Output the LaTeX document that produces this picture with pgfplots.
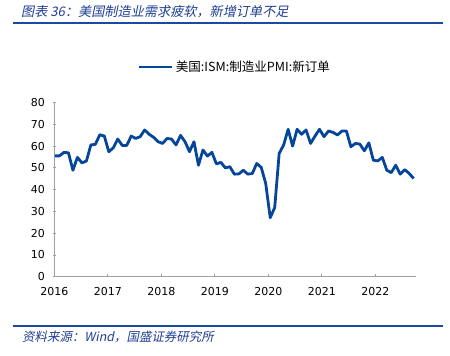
\documentclass[border=0pt]{standalone}
\usepackage{fontspec}
\usepackage{pgfplots}
\pgfplotsset{compat=1.18}
\usepackage{pgfplotstable}
\setmainfont{DejaVu Sans}
\newfontfamily\cjk{Noto Sans CJK SC}
\newfontfamily\cjkit{Noto Sans CJK SC}[FakeSlant=0.2]
\definecolor{titleblue}{RGB}{30,62,145}
\definecolor{ruleblue}{RGB}{25,76,160}
\definecolor{lineblue}{RGB}{5,70,155}
\definecolor{axisgray}{RGB}{160,160,160}
\pgfplotstableread{
i v
0 55.5
1 55.5
2 57.1
3 56.9
4 48.9
5 54.8
6 52.3
7 53.1
8 60.5
9 60.8
10 65.2
11 64.6
12 57.4
13 59.2
14 63.2
15 60.3
16 60.3
17 64.6
18 63.5
19 64.3
20 67.4
21 65.4
22 64.0
23 62.0
24 61.2
25 63.5
26 63.2
27 60.5
28 64.9
29 62.0
30 57.4
31 62.0
32 51.2
33 58.2
34 55.4
35 57.1
36 51.8
37 52.5
38 50.0
39 50.5
40 47.1
41 47.2
42 48.9
43 47.1
44 47.4
45 52.0
46 50.2
47 42.8
48 27.1
49 31.7
50 56.6
51 60.5
52 67.7
53 60.0
54 67.7
55 65.4
56 67.4
57 61.2
58 64.6
59 67.7
60 64.3
61 66.9
62 66.3
63 65.1
64 66.9
65 66.9
66 59.7
67 61.2
68 60.9
69 57.8
70 61.5
71 53.5
72 53.2
73 54.8
74 48.9
75 47.8
76 51.2
77 47.1
78 49.2
79 47.4
80 45.1
}\datatable
\begin{document}
\begin{tikzpicture}[x=1bp,y=1bp]
\useasboundingbox (0,0) rectangle (450,355);
% title
\node[anchor=west, inner sep=0, text=titleblue] at (21,343) {\cjkit\fontsize{13.2}{15}\selectfont 图表 36：美国制造业需求疲软，新增订单不足};
\draw[ruleblue, line width=1.6bp] (13,332) -- (443,332);
% footer
\draw[ruleblue, line width=1.2bp] (13,29) -- (443,29);
\node[anchor=west, inner sep=0, text=titleblue] at (22,18) {\cjkit\fontsize{12.5}{14}\selectfont 资料来源：Wind，国盛证券研究所};
\begin{axis}[
  at={(54.3bp,78.3bp)}, anchor=south west,
  scale only axis, width=361.4bp, height=174.2bp,
  xmin=2016, xmax=2022.755, ymin=0, ymax=80,
  axis x line=bottom, axis y line=left,
  axis line style={axisgray, line width=0.8bp, -},
  xtick={2016,...,2022}, ytick={0,10,...,80},
  xticklabel style={/pgf/number format/1000 sep={}, yshift=-7bp},
  yticklabel style={xshift=-6bp},
  /pgf/number format/assume math mode=true,
  tick label style={font=\fontsize{11}{13}\selectfont, text=black},
  tick align=inside, major tick length=3bp,
  tick style={axisgray, line width=0.8bp},
  y tick style={xshift=-1.5bp},
  legend style={at={(0.5,1.204)}, anchor=center, draw=none, fill=none,
    font=\cjk\fontsize{12.6}{14}\selectfont, inner sep=0pt},
  legend image code/.code={\draw[#1, line width=2.8bp] (0bp,0bp) -- (33bp,0bp);},
]
\addplot[lineblue, line width=2.8bp, line join=round, no markers]
  table[x expr=2016.013+\thisrow{i}*0.0838, y=v] {\datatable};
\addlegendentry{美国:ISM:制造业PMI:新订单}
\end{axis}
\end{tikzpicture}
\end{document}
